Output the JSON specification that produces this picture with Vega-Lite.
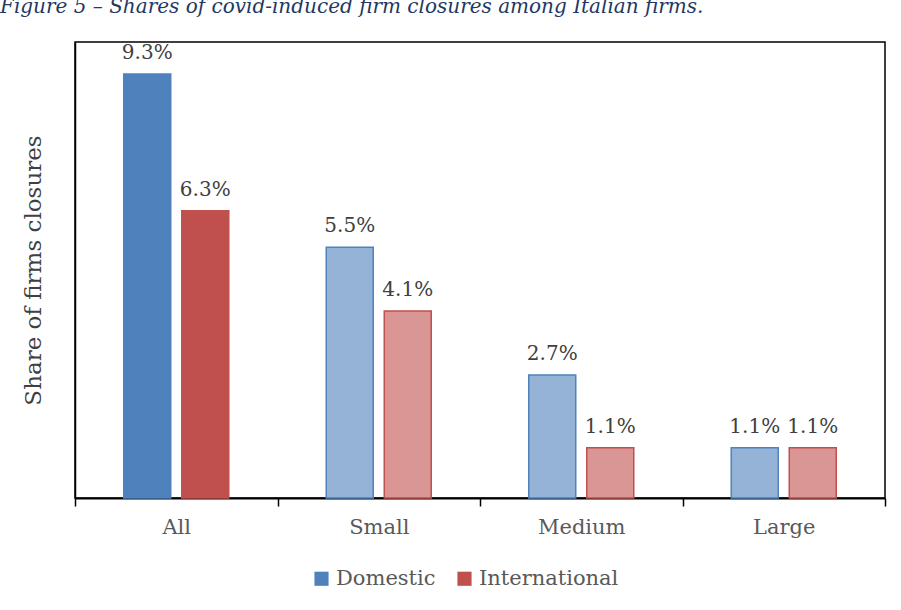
{
  "$schema": "https://vega.github.io/schema/vega-lite/v6.json",
  "width": 810,
  "height": 456,
  "autosize": "none",
  "padding": {"left": 75, "top": 42, "right": 16, "bottom": 112},
  "background": "white",
  "title": {
    "text": "Figure 5 – Shares of covid-induced firm closures among Italian firms.",
    "anchor": "start",
    "frame": "group",
    "dx": -75,
    "offset": 9,
    "baseline": "alphabetic",
    "font": "DejaVu Serif",
    "fontStyle": "italic",
    "fontWeight": "normal",
    "fontSize": 20,
    "color": "#1F3864"
  },
  "data": {
    "values": [
      {"size": "All", "type": "Domestic", "shade": "Domestic", "value": 0.093},
      {"size": "All", "type": "International", "shade": "International", "value": 0.063},
      {"size": "Small", "type": "Domestic", "shade": "Domestic light", "value": 0.055},
      {"size": "Small", "type": "International", "shade": "International light", "value": 0.041},
      {"size": "Medium", "type": "Domestic", "shade": "Domestic light", "value": 0.027},
      {"size": "Medium", "type": "International", "shade": "International light", "value": 0.011},
      {"size": "Large", "type": "Domestic", "shade": "Domestic light", "value": 0.011},
      {"size": "Large", "type": "International", "shade": "International light", "value": 0.011}
    ]
  },
  "encoding": {
    "x": {
      "field": "size",
      "type": "nominal",
      "sort": ["All", "Small", "Medium", "Large"],
      "scale": {"paddingInner": 0, "paddingOuter": 0},
      "axis": {
        "title": null,
        "labelAngle": 0,
        "labelFont": "DejaVu Serif",
        "labelFontSize": 21,
        "labelColor": "#595959",
        "labelPadding": 10,
        "tickBand": "extent",
        "tickSize": 8,
        "tickColor": "black",
        "tickWidth": 1.5,
        "domainColor": "black",
        "domainWidth": 2
      }
    },
    "xOffset": {
      "field": "type",
      "type": "nominal",
      "scale": {"paddingInner": 0.19, "paddingOuter": 0.84}
    },
    "y": {
      "field": "value",
      "type": "quantitative",
      "scale": {"domain": [0, 0.1], "nice": false},
      "axis": {
        "title": "Share of firms closures",
        "labels": false,
        "ticks": false,
        "grid": false,
        "domainColor": "black",
        "domainWidth": 1.5,
        "titleFont": "DejaVu Serif",
        "titleFontSize": 23,
        "titleFontWeight": "normal",
        "titleColor": "#404040",
        "titlePadding": 30
      }
    }
  },
  "layer": [
    {
      "mark": {"type": "bar", "strokeWidth": 1.5},
      "encoding": {
        "fill": {
          "field": "shade",
          "type": "nominal",
          "scale": {
            "domain": ["Domestic", "International", "Domestic light", "International light"],
            "range": ["#4F81BD", "#C0504D", "#95B3D7", "#D99694"]
          },
          "legend": {
            "values": ["Domestic", "International"],
            "title": null,
            "orient": "none",
            "legendX": 236,
            "legendY": 526,
            "direction": "horizontal",
            "symbolType": "square",
            "symbolSize": 200,
            "symbolStrokeWidth": 0,
            "labelOffset": 4,
            "labelFont": "DejaVu Serif",
            "labelFontSize": 21,
            "labelColor": "#595959",
            "columnPadding": 18
          }
        },
        "stroke": {
          "field": "type",
          "type": "nominal",
          "scale": {"domain": ["Domestic", "International"], "range": ["#4F81BD", "#C0504D"]},
          "legend": null
        }
      }
    },
    {
      "mark": {
        "type": "text",
        "baseline": "alphabetic",
        "dy": -15,
        "font": "DejaVu Serif",
        "fontSize": 20,
        "color": "#404040"
      },
      "encoding": {
        "text": {"field": "value", "type": "quantitative", "format": ".1%"}
      }
    }
  ],
  "config": {
    "view": {"stroke": "black", "strokeWidth": 1.5}
  }
}
